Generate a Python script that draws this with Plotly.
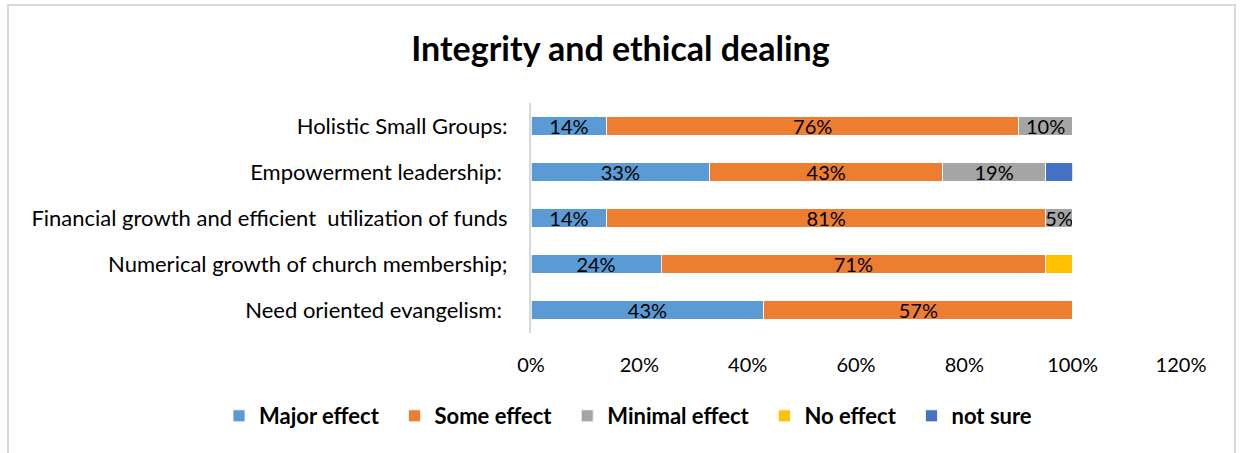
import plotly.graph_objects as go

categories = [
    "Holistic Small Groups:",
    "Empowerment leadership:\u00a0",
    "Financial growth and efficient\u00a0 utilization of funds",
    "Numerical growth of church membership;",
    "Need oriented evangelism:\u00a0",
]
series_names = ["Major effect", "Some effect", "Minimal effect", "No effect", "not sure"]
major = [14, 33, 14, 24, 43]
some = [76, 43, 81, 71, 57]
minimal = [10, 19, 5, 0, 0]
no_effect = [0, 0, 0, 5, 0]
not_sure = [0, 5, 0, 0, 0]
show_label = [
    [True, True, True, True, True],
    [True, True, True, True, True],
    [True, True, True, False, False],
    [False, False, False, False, False],
    [False, False, False, False, False],
]
colors = ["#5B9BD5", "#ED7D31", "#A5A5A5", "#FFC000", "#4472C4"]
x_ticks = [0, 20, 40, 60, 80, 100, 120]

FONT = "Lato, Carlito, Calibri, sans-serif"
PAD = "\u00a0\u00a0"

fig = go.Figure()
for i, (name, vals, col, show) in enumerate(zip(series_names, [major, some, minimal, no_effect, not_sure], colors, show_label)):
    texts = [f"{v}%" if (s and v > 0) else "" for v, s in zip(vals, show)]
    fig.add_trace(go.Bar(
        y=categories, x=vals, name=name + (PAD if i < len(series_names) - 1 else ""),
        orientation="h",
        marker=dict(color=col, line=dict(color="white", width=0.8)),
        text=texts, textposition="inside", insidetextanchor="middle",
        constraintext="none",
        textfont=dict(family=FONT, size=20, color="black"),
        cliponaxis=False,
    ))

fig.update_layout(
    barmode="stack",
    bargap=0.6,
    width=1241, height=453,
    margin=dict(l=531, r=60, t=103, b=120),
    paper_bgcolor="white", plot_bgcolor="white",
    title=dict(text="<b>Integrity and ethical dealing</b>", x=0.5, xref="container", xanchor="center",
               y=1 - 49 / 453, yanchor="middle", yref="container",
               font=dict(family=FONT, size=34, color="black")),
    font=dict(family=FONT, color="black"),
    legend=dict(orientation="h", xref="paper", x=(219 - 531) / 650, xanchor="left",
                yref="paper", y=(333 - 416) / 230, yanchor="middle",
                font=dict(family=FONT, size=22, color="black", weight="bold"),
                traceorder="normal"),
    showlegend=True,
    xaxis=dict(range=[0, 120], tickvals=x_ticks, ticktext=[f"{t}%" for t in x_ticks],
               showgrid=False, zeroline=False, showline=False,
               ticks="outside", ticklen=14, tickcolor="rgba(0,0,0,0)",
               tickfont=dict(family=FONT, size=20, color="black")),
    yaxis=dict(autorange="reversed", showgrid=False, zeroline=False,
               showline=True, linecolor="#D9D9D9", linewidth=2,
               ticks="outside", ticklen=17, tickcolor="rgba(0,0,0,0)",
               tickfont=dict(family=FONT, size=22, color="black")),
    shapes=[dict(type="rect", xref="paper", yref="paper",
                 x0=(8 - 531) / 650, x1=(1235 - 531) / 650,
                 y0=(333 - 470) / 230, y1=(333 - 5) / 230,
                 line=dict(color="#D9D9D9", width=2), fillcolor="rgba(0,0,0,0)", layer="below")],
)
fig.write_html("out.html")
